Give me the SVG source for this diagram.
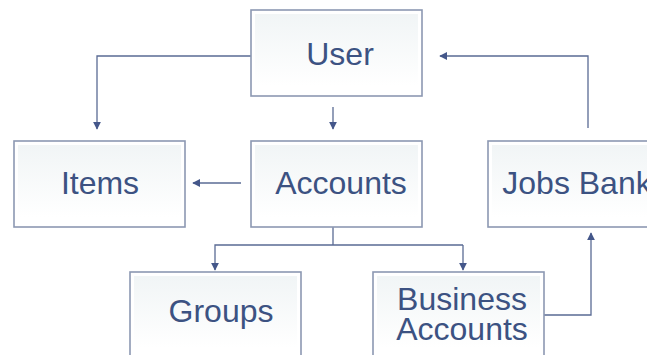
<svg xmlns="http://www.w3.org/2000/svg" width="647" height="355" viewBox="0 0 647 355">
<defs>
<linearGradient id="g" x1="0" y1="0" x2="0" y2="1">
<stop offset="0" stop-color="#f1f5f6"/>
<stop offset="1" stop-color="#ffffff"/>
</linearGradient>
<marker id="ah" viewBox="0 0 10 10" refX="9" refY="5" markerWidth="8" markerHeight="8" markerUnits="userSpaceOnUse" orient="auto">
<path d="M0,0 L10,5 L0,10 z" fill="#44578a"/>
</marker>
<style>
.box{fill:#ffffff;stroke:#8c98b2;stroke-width:1.6}
.inner{fill:url(#g)}
.lbl{font-family:"Liberation Sans",Arial,sans-serif;font-size:32px;fill:#3c5282;text-anchor:middle}
.con{fill:none;stroke:#5a6b94;stroke-width:1.3}
</style>
</defs>
<rect width="647" height="355" fill="#ffffff"/>
<g id="connectors">
<path class="con" d="M251,56 H97 V129" marker-end="url(#ah)"/>
<path class="con" d="M333,107 V129" marker-end="url(#ah)"/>
<path class="con" d="M241,183 H193" marker-end="url(#ah)"/>
<path class="con" d="M588,128 V56 H440" marker-end="url(#ah)"/>
<path class="con" d="M333,227 V245"/>
<path class="con" d="M463,245 H215 V270" marker-end="url(#ah)"/>
<path class="con" d="M463,245 V270" marker-end="url(#ah)"/>
<path class="con" d="M544,315 H591 V233" marker-end="url(#ah)"/>
</g>
<g id="user">
<rect class="box" x="251" y="10" width="171" height="86"/>
<rect class="inner" x="255" y="14" width="163" height="72"/>
<text class="lbl" x="340" y="65">User</text>
</g>
<g id="items">
<rect class="box" x="14" y="141" width="171" height="86"/>
<rect class="inner" x="18" y="145" width="163" height="72"/>
<text class="lbl" x="100" y="194">Items</text>
</g>
<g id="accounts">
<rect class="box" x="251" y="141" width="171" height="86"/>
<rect class="inner" x="255" y="145" width="163" height="72"/>
<text class="lbl" x="341" y="194">Accounts</text>
</g>
<g id="jobsbank">
<rect class="box" x="488" y="141" width="171" height="86"/>
<rect class="inner" x="492" y="145" width="163" height="72"/>
<text class="lbl" x="577" y="194">Jobs Bank</text>
</g>
<g id="groups">
<rect class="box" x="130" y="272" width="171" height="90"/>
<rect class="inner" x="134" y="276" width="163" height="72"/>
<text class="lbl" x="221" y="322">Groups</text>
</g>
<g id="business">
<rect class="box" x="373" y="272" width="171" height="90"/>
<rect class="inner" x="377" y="276" width="163" height="72"/>
<text class="lbl" x="462" y="310">Business</text>
<text class="lbl" x="462" y="340">Accounts</text>
</g>
</svg>
